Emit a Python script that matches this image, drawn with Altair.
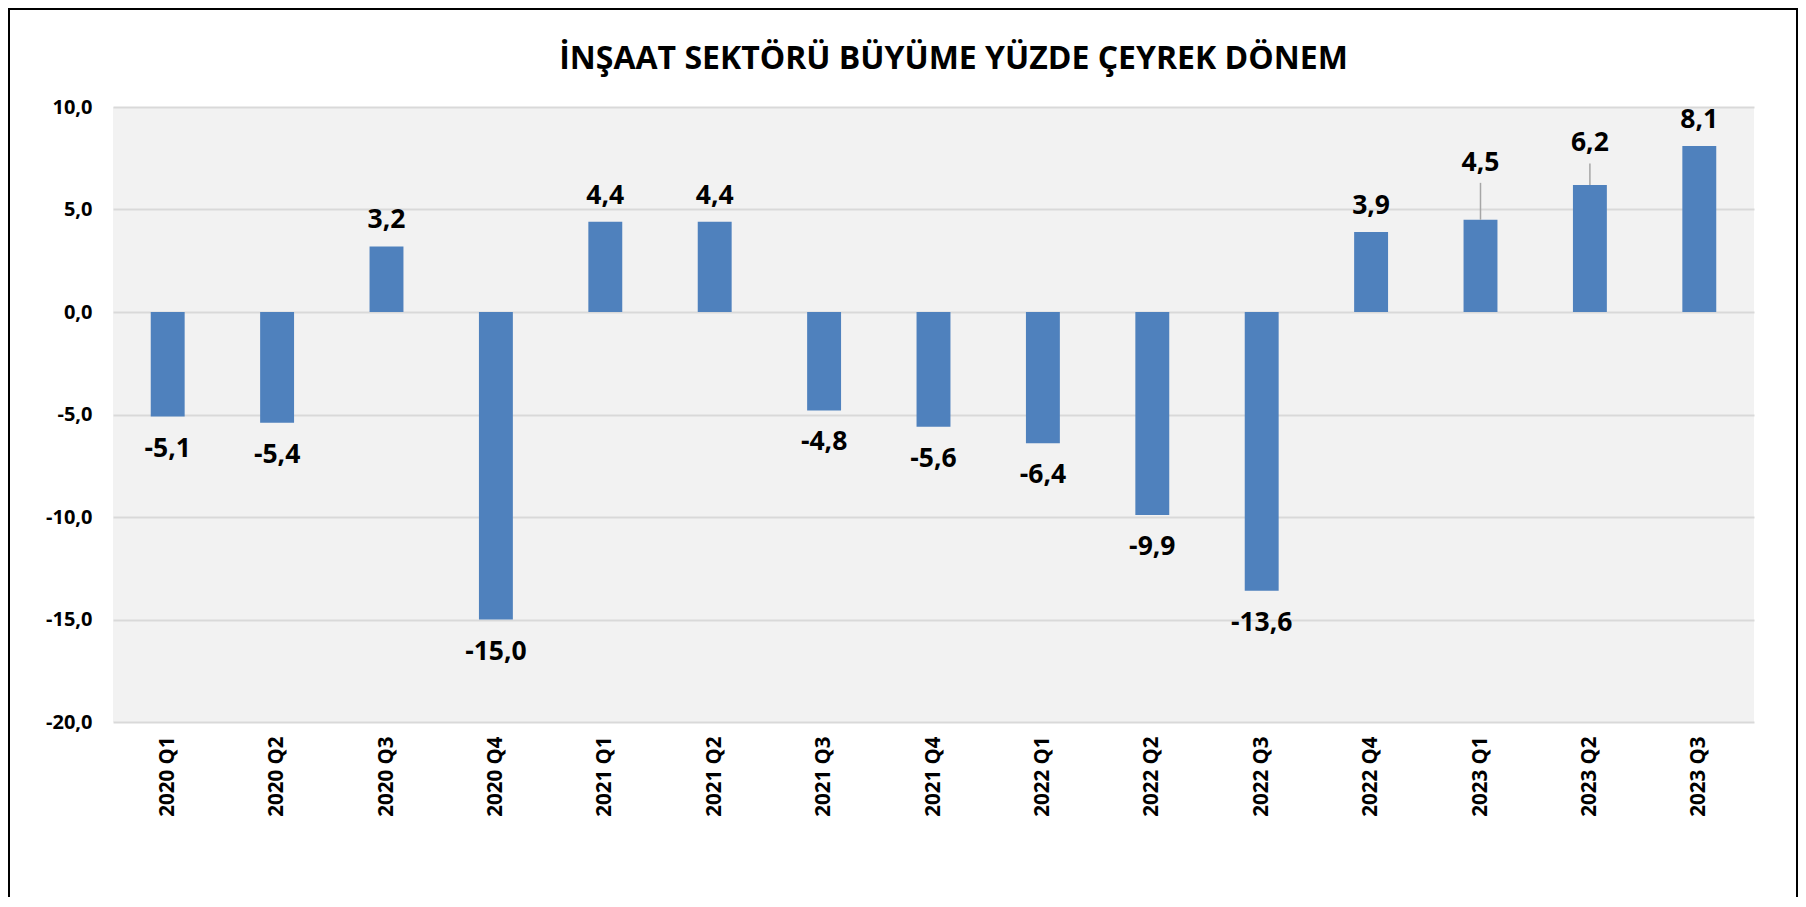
import altair as alt
import pandas as pd

# ---- data ----
quarters = ["2020 Q1", "2020 Q2", "2020 Q3", "2020 Q4",
            "2021 Q1", "2021 Q2", "2021 Q3", "2021 Q4",
            "2022 Q1", "2022 Q2", "2022 Q3", "2022 Q4",
            "2023 Q1", "2023 Q2", "2023 Q3"]
growth = [-5.1, -5.4, 3.2, -15.0, 4.4, 4.4, -4.8, -5.6, -6.4, -9.9, -13.6, 3.9, 4.5, 6.2, 8.1]
y_ticks = [-20, -15, -10, -5, 0, 5, 10]
title_text = "İNŞAAT SEKTÖRÜ BÜYÜME YÜZDE ÇEYREK DÖNEM"

# labels that were dragged upward in the original (with leader lines)
moved_quarters = ["2023 Q1", "2023 Q2"]
moved_label_lift = [1.52, 0.8]
moved_leader_top = [6.3, 7.25]

df = pd.DataFrame({"q": quarters, "v": growth})
df["label"] = [f"{v:.1f}".replace(".", ",") for v in growth]
lift = dict(zip(moved_quarters, moved_label_lift))
df["lab_y"] = [v + lift.get(q, 0.0) for q, v in zip(quarters, growth)]

lead_df = pd.DataFrame({
    "q": moved_quarters,
    "v": [growth[quarters.index(q)] for q in moved_quarters],
    "top": moved_leader_top,
})

W, H = 1641, 615
PAD = {"left": 105, "top": 99, "right": 44, "bottom": 175}
FONT = "Open Sans"

x_enc = alt.X(
    "q:N", sort=quarters, title=None,
    scale=alt.Scale(paddingInner=0.69, paddingOuter=0.345),
    axis=alt.Axis(labelAngle=-90, labelFont=FONT, labelFontSize=20.5,
                  labelFontWeight="bold", labelColor="black",
                  labelPadding=14, ticks=False, domain=False, grid=False),
)
y_scale = alt.Scale(domain=[-20, 10], nice=False, zero=False)
y_axis = alt.Axis(values=y_ticks, title=None, labelFont=FONT, labelFontSize=20,
                  labelFontWeight="bold", labelColor="black", labelPadding=21,
                  ticks=False, domain=False, grid=True, gridColor="#D9D9D9",
                  gridWidth=2,
                  labelExpr="(datum.value < 0 ? '-' : '') + replace(format(abs(datum.value), '.1f'), '.', ',')")

base = alt.Chart(df)

bars = base.mark_bar(color="#4F81BD").encode(
    x=x_enc, y=alt.Y("v:Q", scale=y_scale, axis=y_axis)
)

txt_style = dict(font=FONT, fontSize=26.5, fontWeight="bold", color="black", baseline="middle")
pos_text = base.transform_filter("datum.v >= 0").mark_text(dy=-26, **txt_style).encode(
    x=x_enc, y=alt.Y("lab_y:Q", scale=y_scale, axis=y_axis), text="label:N"
)
neg_text = base.transform_filter("datum.v < 0").mark_text(dy=32, **txt_style).encode(
    x=x_enc, y=alt.Y("lab_y:Q", scale=y_scale, axis=y_axis), text="label:N"
)

leaders = alt.Chart(lead_df).mark_rule(color="#A6A6A6", strokeWidth=1.5).encode(
    x=x_enc, y=alt.Y("v:Q", scale=y_scale, axis=y_axis), y2="top:Q"
)

title = alt.Chart(alt.Data(values=[{"t": title_text}])).mark_text(
    font=FONT, fontSize=32, fontWeight="bold", color="black", baseline="middle", align="center"
).encode(x=alt.value(W / 2 + 20), y=alt.value(-48), text="t:N")

border = alt.Chart(alt.Data(values=[{"b": 1}])).mark_rect(
    filled=False, stroke="black", strokeWidth=2
).encode(
    x=alt.value(-PAD["left"] + 1), x2=alt.value(W + PAD["right"] - 1),
    y=alt.value(-PAD["top"] + 1), y2=alt.value(H + PAD["bottom"] + 20)
)

chart = alt.layer(bars, leaders, pos_text, neg_text, title, border).properties(
    width=W, height=H,
    autosize=alt.AutoSizeParams(type="none"),
    padding=PAD,
    background="white",
).configure_view(fill="#F2F2F2", stroke=None)

chart.save("out.html", embed_options={"renderer": "svg", "actions": False})
